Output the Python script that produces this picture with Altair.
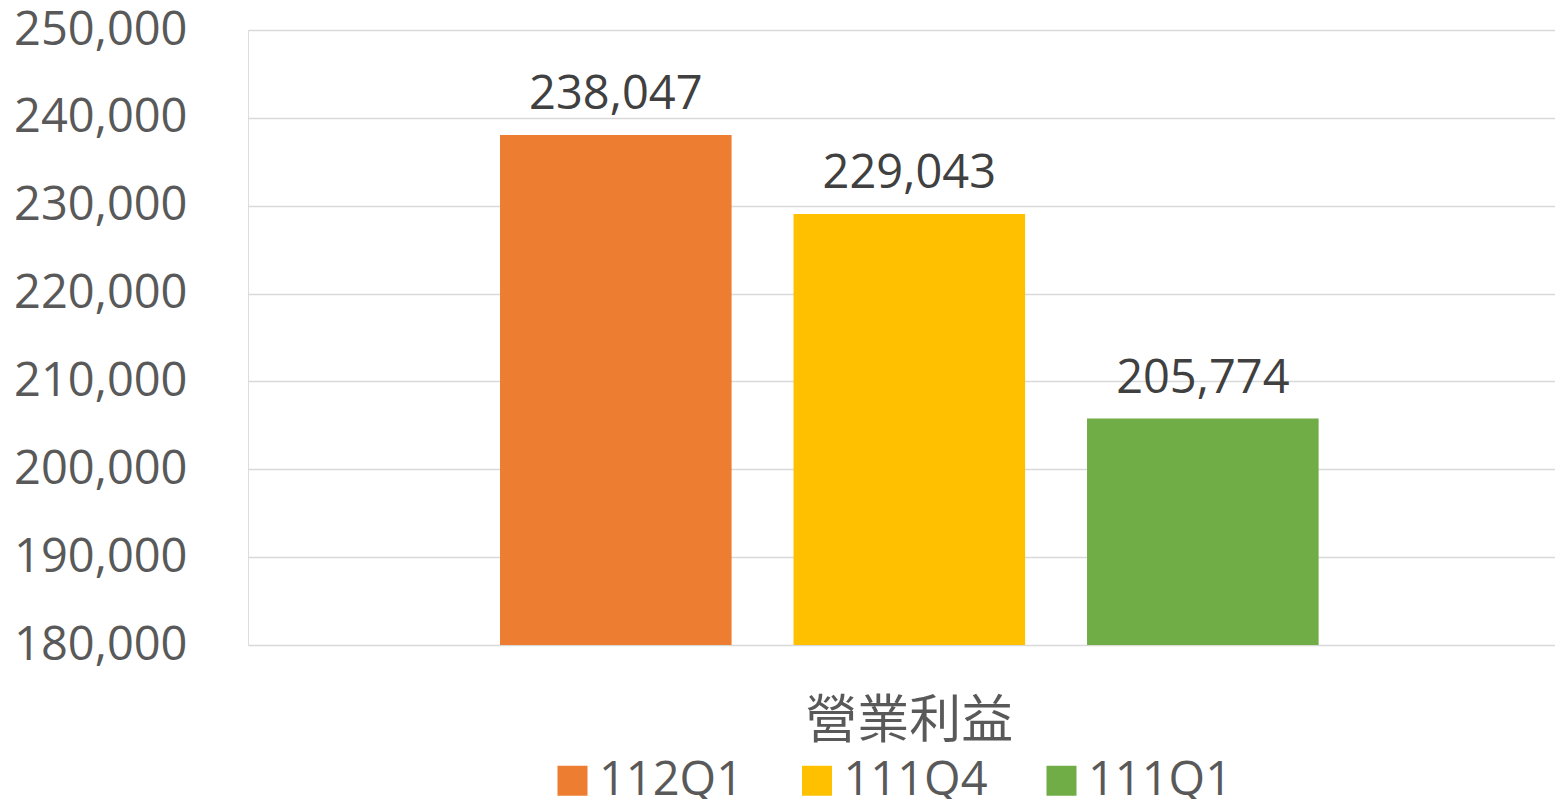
import altair as alt
import pandas as pd

category = ["營業利益", "營業利益", "營業利益"]
series = ["112Q1", "111Q4", "111Q1"]
values = [238047, 229043, 205774]
colors = ["#ED7D31", "#FFC000", "#70AD47"]
y_ticks = [180000, 190000, 200000, 210000, 220000, 230000, 240000, 250000]

df = pd.DataFrame({"category": category, "series": series, "value": values})

x = alt.X("category:N", title=None,
          scale=alt.Scale(paddingInner=0, paddingOuter=0.2983, align=0.516),
          axis=alt.Axis(labelFont="Noto Sans CJK TC", labelFontSize=52, labelColor="#595959",
                        labelPadding=51, labelAngle=0, labelLimit=600, ticks=False,
                        domain=False, grid=False))
xo = alt.XOffset("series:N", sort=series,
                 scale=alt.Scale(paddingInner=0.211, paddingOuter=0))
y = alt.Y("value:Q", title=None,
          scale=alt.Scale(domain=[180000, 250000], zero=False, nice=False),
          axis=alt.Axis(values=y_ticks, format=",d", labelFont="Open Sans", labelFontSize=47,
                        labelColor="#595959", labelPadding=61, ticks=False, domain=False,
                        grid=True, gridColor="#D9D9D9", gridWidth=1.6))
color = alt.Color("series:N", sort=series,
                  scale=alt.Scale(domain=series, range=colors),
                  legend=alt.Legend(title=None, orient="none", legendX=301, legendY=727,
                                    direction="horizontal", columns=3, symbolType="square",
                                    symbolSize=900, symbolStrokeWidth=0, labelFont="Open Sans",
                                    labelFontSize=47, labelColor="#595959", labelOffset=3,
                                    columnPadding=49.5, padding=0, labelLimit=400))

bars = alt.Chart(df).mark_bar(clip=True).encode(x=x, xOffset=xo, y=y, color=color)
labels = alt.Chart(df).mark_text(baseline="alphabetic", dy=-26, font="Open Sans",
                                 fontSize=47, color="#404040").encode(
    x=x, xOffset=xo, y=y, text=alt.Text("value:Q", format=",d"))

chart = (bars + labels).properties(
    width=1307, height=615,
    autosize=alt.AutoSizeParams(type="none"),
    padding={"left": 240, "top": 22, "right": 0, "bottom": 154},
).configure_view(stroke=None).configure(background="white")

chart.save("out.html", embed_options={"renderer": "svg", "actions": False})
